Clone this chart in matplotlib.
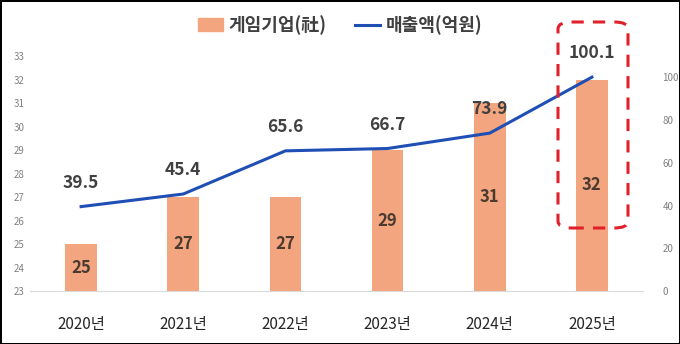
import numpy as np
import matplotlib.pyplot as plt
from matplotlib.patches import FancyBboxPatch
from matplotlib.lines import Line2D
from matplotlib.patches import Patch

plt.rcParams['font.family'] = ['Noto Sans CJK KR', 'DejaVu Sans']

years = ['2020년', '2021년', '2022년', '2023년', '2024년', '2025년']
companies = [25, 27, 27, 29, 31, 32]
sales = [39.5, 45.4, 65.6, 66.7, 73.9, 100.1]

bar_color = '#F2A57E'
line_color = '#1F4FB5'
text_dark = '#404040'

fig = plt.figure(figsize=(6.8, 3.44), dpi=100)
fig.patch.set_edgecolor('black')
fig.patch.set_linewidth(2)
ax = fig.add_axes([30 / 680, 53 / 344, 613 / 680, 235 / 344])
x = np.arange(len(years))

ax.bar(x, np.array(companies) - 23, bottom=23, width=0.31, color=bar_color, zorder=2)
ax.set_ylim(23, 33)
ax.set_xlim(-0.5, 5.5)
ax.set_yticks(range(23, 34))
ax.tick_params(axis='y', length=0, labelsize=7, labelcolor='#808080', pad=4)
ax.set_xticks(x)
ax.set_xticklabels(years, fontsize=11, color='#262626')
ax.tick_params(axis='x', length=0, pad=18)
for s in ['top', 'right', 'left']:
    ax.spines[s].set_visible(False)
ax.spines['bottom'].set_color('#d9d9d9')

for xi, v in zip(x, companies):
    ax.text(xi, (v + 23) / 2, str(v), ha='center', va='center', fontsize=12,
            fontweight='bold', color='#4a3a30', zorder=4)

ax2 = ax.twinx()
ax2.plot(x, sales, color=line_color, linewidth=2.2, zorder=3)
ax2.set_ylim(0, 110)
ax2.set_yticks(range(0, 101, 20))
ax2.tick_params(axis='y', length=0, labelsize=7, labelcolor='#808080', pad=14)
for s in ['top', 'right', 'left', 'bottom']:
    ax2.spines[s].set_visible(False)

for xi, v in zip(x, sales):
    ax2.text(xi, v + 7, f'{v:.1f}', ha='center', va='bottom', fontsize=12.5,
             fontweight='bold', color=text_dark)

# red dashed highlight around 2025
box = FancyBboxPatch((558 / 680, 116 / 344), 70 / 680, 206 / 344,
                     boxstyle='round,pad=0,rounding_size=0.02',
                     transform=fig.transFigure, fill=False,
                     edgecolor='#E0202A', linewidth=2.2, linestyle=(0, (4, 3)))
fig.patches.append(box)

handles = [Patch(color=bar_color, label='게임기업(社)'),
           Line2D([0], [0], color=line_color, linewidth=2.2, label='매출액(억원)')]
fig.legend(handles=handles, loc='center', bbox_to_anchor=(0.5, 1 - 25 / 344),
           ncol=2, frameon=False, prop={'size': 13, 'weight': 'bold'},
           handlelength=1.4, handletextpad=0.3, columnspacing=1.6,
           labelcolor='#404040')

fig.savefig('out.png', dpi=100)
